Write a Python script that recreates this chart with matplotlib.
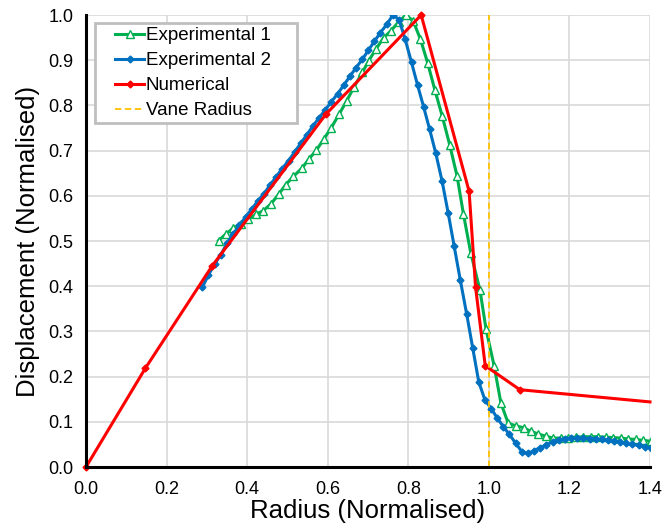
import matplotlib
matplotlib.use("Agg")
import matplotlib.pyplot as plt
from matplotlib.patches import Rectangle

plt.rcParams['font.family'] = ['Liberation Sans', 'DejaVu Sans']

# ---- data ----
exp1_x = [0.329, 0.348, 0.366, 0.385, 0.403, 0.422, 0.440, 0.459, 0.478, 0.496,
          0.515, 0.537, 0.553, 0.572, 0.590, 0.609, 0.628, 0.647, 0.665, 0.686,
          0.702, 0.720, 0.739, 0.757, 0.776, 0.794, 0.812, 0.830, 0.848, 0.866,
          0.884, 0.903, 0.921, 0.937, 0.955, 0.978, 0.993, 1.013, 1.030, 1.048,
          1.067, 1.086, 1.104, 1.123, 1.142, 1.160, 1.179, 1.197, 1.216, 1.234,
          1.253, 1.272, 1.290, 1.309, 1.327, 1.346, 1.365, 1.383, 1.402]
exp1_y = [0.501, 0.516, 0.529, 0.538, 0.548, 0.559, 0.567, 0.582, 0.603, 0.625,
          0.643, 0.662, 0.681, 0.701, 0.725, 0.751, 0.780, 0.810, 0.840, 0.873,
          0.899, 0.925, 0.950, 0.965, 0.985, 1.000, 0.987, 0.947, 0.894, 0.834,
          0.777, 0.712, 0.644, 0.559, 0.474, 0.391, 0.305, 0.224, 0.141, 0.097,
          0.091, 0.087, 0.079, 0.073, 0.068, 0.064, 0.064, 0.065, 0.066, 0.067,
          0.067, 0.067, 0.066, 0.065, 0.064, 0.062, 0.061, 0.059, 0.057]

exp2_x = [0.289, 0.304, 0.320, 0.335, 0.350, 0.365, 0.381, 0.396, 0.411, 0.426,
          0.442, 0.457, 0.472, 0.487, 0.503, 0.518, 0.533, 0.548, 0.564, 0.579,
          0.594, 0.609, 0.625, 0.640, 0.655, 0.670, 0.686, 0.701, 0.716, 0.731,
          0.747, 0.762, 0.777, 0.792, 0.808, 0.823, 0.838, 0.853, 0.868, 0.884,
          0.899, 0.914, 0.929, 0.945, 0.960, 0.975, 0.990, 1.006, 1.021, 1.036,
          1.051, 1.067, 1.082, 1.097, 1.112, 1.128, 1.143, 1.158, 1.173, 1.189,
          1.204, 1.219, 1.234, 1.250, 1.265, 1.280, 1.295, 1.311, 1.326, 1.341,
          1.356, 1.372, 1.387, 1.402]
exp2_y = [0.398, 0.425, 0.450, 0.470, 0.495, 0.515, 0.535, 0.553, 0.570, 0.588,
          0.605, 0.624, 0.642, 0.660, 0.678, 0.697, 0.716, 0.735, 0.755, 0.773,
          0.790, 0.808, 0.826, 0.845, 0.864, 0.883, 0.902, 0.922, 0.942, 0.961,
          0.980, 1.000, 0.990, 0.947, 0.895, 0.845, 0.797, 0.747, 0.695, 0.632,
          0.562, 0.488, 0.414, 0.338, 0.263, 0.188, 0.149, 0.129, 0.108, 0.089,
          0.072, 0.052, 0.034, 0.030, 0.036, 0.043, 0.049, 0.056, 0.060, 0.063,
          0.064, 0.064, 0.064, 0.063, 0.062, 0.061, 0.059, 0.057, 0.055, 0.052,
          0.050, 0.048, 0.045, 0.043]

num_x = [0.0, 0.147, 0.3125, 0.595, 0.832, 0.951, 0.967, 0.991, 1.077, 1.4]
num_y = [0.0, 0.218, 0.444, 0.780, 1.000, 0.610, 0.398, 0.224, 0.171, 0.144]

vane_radius = 1.0

x_ticks = [0.0, 0.2, 0.4, 0.6, 0.8, 1.0, 1.2, 1.4]
y_ticks = [0.0, 0.1, 0.2, 0.3, 0.4, 0.5, 0.6, 0.7, 0.8, 0.9, 1.0]

# ---- figure ----
W, H = 671, 527
L, R, T, B = 86, 650, 15, 467
fig = plt.figure(figsize=(W/100, H/100), dpi=100)
ax = fig.add_axes([L/W, 1 - B/H, (R-L)/W, (B-T)/H])

ax.plot(exp1_x, exp1_y, color='#00B050', lw=2.2, marker='^', markersize=6,
        markerfacecolor='white', markeredgecolor='#00B050', markeredgewidth=1.0,
        label='Experimental 1', zorder=3)
ax.plot(exp2_x, exp2_y, color='#0070C0', lw=2.2, marker='D', markersize=3.5,
        markerfacecolor='#0070C0', markeredgecolor='#0070C0',
        label='Experimental 2', zorder=4)
ax.plot(num_x, num_y, color='#FF0000', lw=2.2, marker='D', markersize=3.5,
        markerfacecolor='#FF0000', markeredgecolor='#FF0000',
        markevery=list(range(len(num_x) - 1)),
        label='Numerical', zorder=5, clip_on=False)
ax.axvline(vane_radius, color='#FFC000', lw=1.3, ls=(0, (3.5, 2)),
           label='Vane Radius', zorder=6)

ax.set_xlim(0, 1.4)
ax.set_ylim(0, 1.0)
ax.set_xticks(x_ticks)
ax.set_yticks(y_ticks)
ax.set_xticklabels([f"{v:.1f}" for v in x_ticks])
ax.set_yticklabels([f"{v:.1f}" for v in y_ticks])
ax.tick_params(axis='both', length=0, labelsize=13, colors='black')
ax.tick_params(axis='y', pad=9)
ax.tick_params(axis='x', pad=10)

ax.grid(True, color='#D9D9D9', lw=1.2)
ax.set_axisbelow(True)
for s in ['top', 'right']:
    ax.spines[s].set_visible(False)
for s in ['left', 'bottom']:
    ax.spines[s].set_color('black')
    ax.spines[s].set_linewidth(2.2)
    ax.spines[s].set_zorder(7)

ax.set_xlabel('Radius (Normalised)', fontsize=18.5, labelpad=1)
ax.set_ylabel('Displacement (Normalised)', fontsize=18.5, labelpad=6)

# legend frame drawn separately for exact padding
fw, fh = R - L, B - T
frame = Rectangle(((95 - L)/fw, (B - 123)/fh), 202/fw, 100/fh,
                  transform=ax.transAxes, facecolor='white', edgecolor='#BFBFBF',
                  lw=2.0, zorder=9, clip_on=False)
ax.add_patch(frame)
leg = ax.legend(loc='upper left', bbox_to_anchor=((115 - L)/fw, (B - 27)/fh),
                borderaxespad=0, borderpad=0, fontsize=13.5, frameon=False,
                handlelength=1.55, handletextpad=0.1, labelspacing=0.42)
leg.set_zorder(10)

fig.savefig('out.png', dpi=100)
